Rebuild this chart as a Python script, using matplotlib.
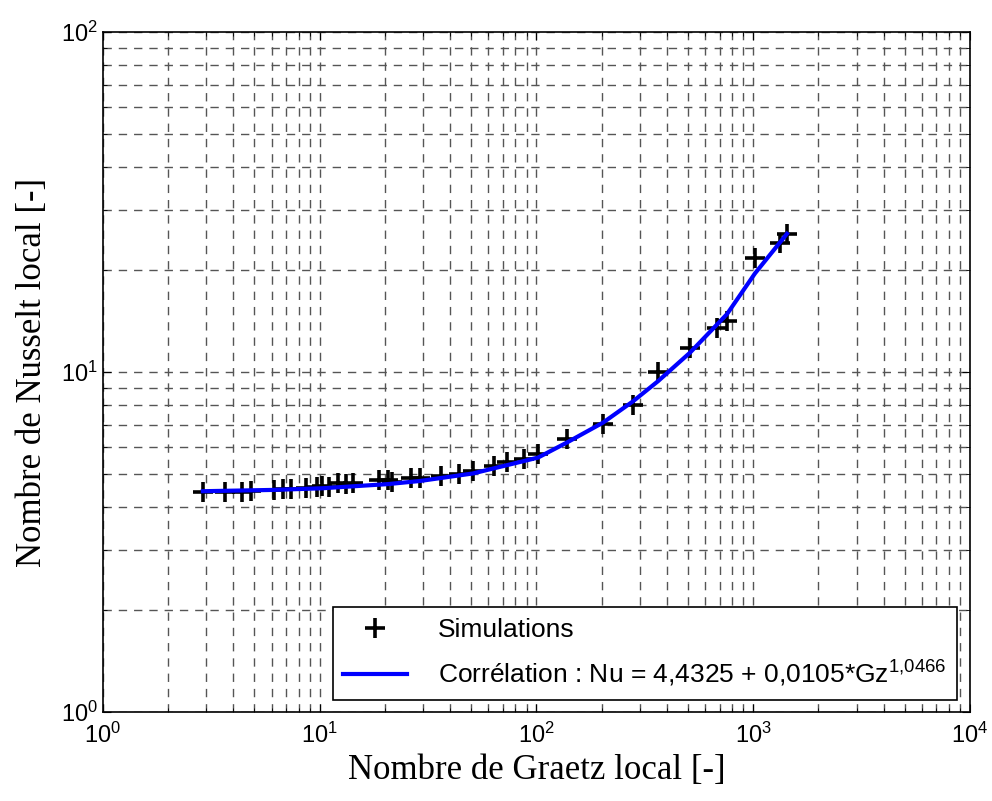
import matplotlib
matplotlib.use('Agg')
import matplotlib.pyplot as plt
import numpy as np

# Simulated points (Graetz, Nusselt)
gz_sim = [2.89, 3.66, 4.38, 4.82, 6.15, 6.77, 7.37, 8.64, 9.71, 10.24, 11.03, 12.14,
          13.21, 14.23, 18.76, 20.64, 21.54, 26.35, 29.02, 36.3, 43.9, 50.9, 63.6,
          73.1, 87.6, 101.6, 138, 203, 279, 364, 511, 681, 757, 1019, 1328, 1431]
nu_sim = [4.45, 4.45, 4.45, 4.47, 4.50, 4.53, 4.53, 4.57, 4.60, 4.62, 4.58, 4.70,
          4.68, 4.70, 4.80, 4.80, 4.75, 4.88, 4.88, 4.95, 5.02, 5.12, 5.30,
          5.42, 5.55, 5.75, 6.35, 7.05, 8.0, 10.0, 11.8, 13.5, 14.1, 21.6, 24.0, 25.5]

# Correlation curve
gz_corr = [2.89, 6.15, 10.24, 20.6, 29, 50.9, 101.6, 138, 203, 279, 364, 511, 757, 1019, 1431]
nu_corr = [4.46, 4.50, 4.55, 4.68, 4.78, 5.03, 5.6, 6.2, 7.1, 8.2, 9.4, 11.4, 14.8, 19.5, 25.5]

plt.rcParams['font.family'] = ['Liberation Sans', 'DejaVu Sans']
plt.rcParams['mathtext.default'] = 'regular'

fig = plt.figure(figsize=(9.92, 8.01), dpi=100)
ax = fig.add_axes([0.1038, 0.1111, 0.874, 0.849])

ax.plot(gz_sim, nu_sim, linestyle='none', marker='+', color='black',
        markersize=15, markeredgewidth=2.6, label='Simulations')
ax.plot(gz_corr, nu_corr, color='#0000ff', linewidth=3,
        label='Corrélation : Nu = 4,4325 + 0,0105*Gz$^{1{,}0466}$')

ax.set_xscale('log')
ax.set_yscale('log')
ax.set_xlim(1, 1e4)
ax.set_ylim(1, 100)

ax.grid(True, which='both', linestyle=(0, (6, 5)), color='#555555', linewidth=1)
ax.tick_params(which='both', direction='in', top=True, right=True, labelsize=17)
ax.tick_params(which='major', length=6)
ax.tick_params(which='minor', length=3)
ax.tick_params(axis='x', pad=8)
for s in ax.spines.values():
    s.set_linewidth(1.2)

ax.set_xlabel('Nombre de Graetz local [-]', fontsize=25, family='Liberation Serif', labelpad=4)
ax.set_ylabel('Nombre de Nusselt local [-]', fontsize=25, family='Liberation Serif', labelpad=9)

leg = ax.legend(loc='lower right', bbox_to_anchor=(0.985, 0.018), borderaxespad=0,
                fontsize=19, fancybox=False, edgecolor='black', framealpha=1,
                handlelength=2.4, handletextpad=1.2, borderpad=0.4, labelspacing=0.65)
leg.get_frame().set_linewidth(1.2)

fig.savefig('out.png', dpi=100)
